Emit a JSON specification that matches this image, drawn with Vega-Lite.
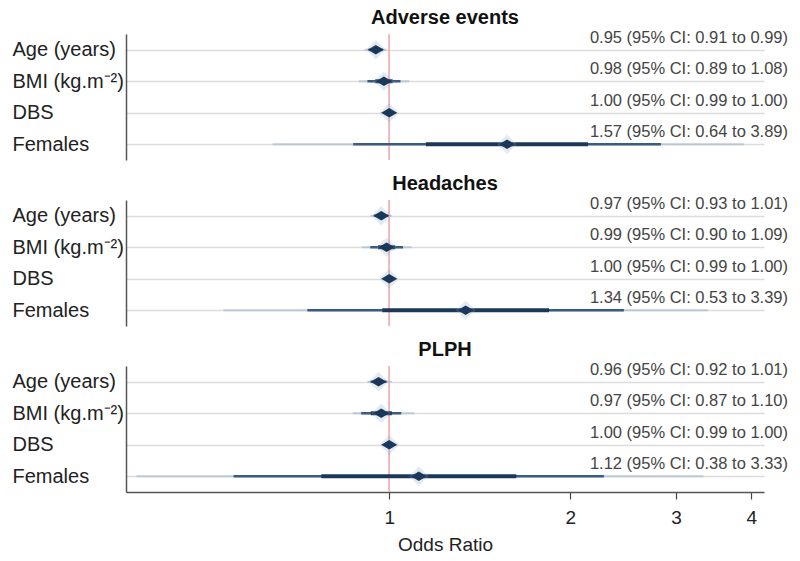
{
  "$schema": "https://vega.github.io/schema/vega-lite/v6.json",
  "padding": {"left": 12, "top": 7, "right": 5, "bottom": 3},
  "background": "white",
  "config": {
    "font": "Liberation Sans",
    "view": {"stroke": null},
    "concat": {"spacing": 12},
    "title": {"fontSize": 20, "fontWeight": "bold", "color": "#111", "anchor": "middle", "offset": 2}
  },
  "data": {"values": [
    {"outcome": "Adverse events", "var": "Age (years)", "est": 0.95, "lo95": 0.91, "hi95": 0.99, "lo80": 0.924, "hi80": 0.976, "lo50": 0.936, "hi50": 0.964, "label": "0.95 (95% CI: 0.91 to 0.99)"},
    {"outcome": "Adverse events", "var": "BMI (kg.m⁻²)", "est": 0.98, "lo95": 0.89, "hi95": 1.08, "lo80": 0.92, "hi80": 1.044, "lo50": 0.948, "hi50": 1.013, "label": "0.98 (95% CI: 0.89 to 1.08)"},
    {"outcome": "Adverse events", "var": "DBS", "est": 1.0, "lo95": 0.99, "hi95": 1.0, "lo80": 0.995, "hi80": 1.004, "lo50": 0.997, "hi50": 1.002, "label": "1.00 (95% CI: 0.99 to 1.00)"},
    {"outcome": "Adverse events", "var": "Females", "est": 1.57, "lo95": 0.64, "hi95": 3.89, "lo80": 0.871, "hi80": 2.83, "lo50": 1.151, "hi50": 2.141, "label": "1.57 (95% CI: 0.64 to 3.89)"},
    {"outcome": "Headaches", "var": "Age (years)", "est": 0.97, "lo95": 0.93, "hi95": 1.01, "lo80": 0.944, "hi80": 0.996, "lo50": 0.956, "hi50": 0.984, "label": "0.97 (95% CI: 0.93 to 1.01)"},
    {"outcome": "Headaches", "var": "BMI (kg.m⁻²)", "est": 0.99, "lo95": 0.9, "hi95": 1.09, "lo80": 0.93, "hi80": 1.054, "lo50": 0.958, "hi50": 1.023, "label": "0.99 (95% CI: 0.90 to 1.09)"},
    {"outcome": "Headaches", "var": "DBS", "est": 1.0, "lo95": 0.99, "hi95": 1.0, "lo80": 0.995, "hi80": 1.004, "lo50": 0.997, "hi50": 1.002, "label": "1.00 (95% CI: 0.99 to 1.00)"},
    {"outcome": "Headaches", "var": "Females", "est": 1.34, "lo95": 0.53, "hi95": 3.39, "lo80": 0.731, "hi80": 2.456, "lo50": 0.974, "hi50": 1.844, "label": "1.34 (95% CI: 0.53 to 3.39)"},
    {"outcome": "PLPH", "var": "Age (years)", "est": 0.96, "lo95": 0.92, "hi95": 1.01, "lo80": 0.931, "hi80": 0.99, "lo50": 0.945, "hi50": 0.976, "label": "0.96 (95% CI: 0.92 to 1.01)"},
    {"outcome": "PLPH", "var": "BMI (kg.m⁻²)", "est": 0.97, "lo95": 0.87, "hi95": 1.1, "lo80": 0.898, "hi80": 1.047, "lo50": 0.932, "hi50": 1.01, "label": "0.97 (95% CI: 0.87 to 1.10)"},
    {"outcome": "PLPH", "var": "DBS", "est": 1.0, "lo95": 0.99, "hi95": 1.0, "lo80": 0.995, "hi80": 1.004, "lo50": 0.997, "hi50": 1.002, "label": "1.00 (95% CI: 0.99 to 1.00)"},
    {"outcome": "PLPH", "var": "Females", "est": 1.12, "lo95": 0.38, "hi95": 3.33, "lo80": 0.551, "hi80": 2.275, "lo50": 0.771, "hi50": 1.627, "label": "1.12 (95% CI: 0.38 to 3.33)"}
  ]},
  "vconcat": [
    {
      "title": "Adverse events",
      "transform": [{"filter": "datum.outcome === 'Adverse events'"}],
      "width": 638, "height": 126,
      "encoding": {
        "y": {"field": "var", "type": "nominal", "sort": ["Age (years)", "BMI (kg.m⁻²)", "DBS", "Females"],
          "scale": {"type": "point", "padding": 0.5},
          "axis": {"title": null, "labelAlign": "left", "labelPadding": 114, "ticks": false, "tickSize": 0, "labelFontSize": 20, "labelColor": "#222", "domainColor": "#555", "domainWidth": 1.5, "grid": true, "gridColor": "#dcdcdc", "gridWidth": 1.5, "labelLimit": 200}}
      },
      "layer": [
        {"mark": {"type": "rule", "color": "#f4b3bb", "strokeWidth": 1.2}, "encoding": {"x": {"datum": 1, "type": "quantitative", "scale": {"type": "log", "domain": [0.365, 4.2], "nice": false}, "axis": null}, "y": null}},
        {"mark": {"type": "rule", "color": "#a9bccf", "strokeWidth": 2, "opacity": 0.7}, "encoding": {"x": {"field": "lo95", "type": "quantitative"}, "x2": {"field": "hi95"}}},
        {"mark": {"type": "rule", "color": "#3a5c80", "strokeWidth": 2.5}, "encoding": {"x": {"field": "lo80", "type": "quantitative"}, "x2": {"field": "hi80"}}},
        {"mark": {"type": "rule", "color": "#1c3858", "strokeWidth": 4}, "encoding": {"x": {"field": "lo50", "type": "quantitative"}, "x2": {"field": "hi50"}}},
        {"mark": {"type": "point", "shape": "M-1,0L0,-1L1,0L0,1Z", "filled": true, "color": "#8aaccb", "opacity": 0.25, "size": 380, "strokeWidth": 0}, "encoding": {"x": {"field": "est", "type": "quantitative"}}},
        {"mark": {"type": "point", "shape": "M-1,0L0,-0.6L1,0L0,0.6Z", "filled": true, "color": "#1c3858", "opacity": 1, "size": 256, "strokeWidth": 0}, "encoding": {"x": {"field": "est", "type": "quantitative"}}},
        {"mark": {"type": "text", "align": "right", "baseline": "alphabetic", "dx": 24, "dy": -7, "fontSize": 16.5, "color": "#444"}, "encoding": {"x": {"datum": 4.2, "type": "quantitative"}, "text": {"field": "label"}}}
      ]
    },
    {
      "title": "Headaches",
      "transform": [{"filter": "datum.outcome === 'Headaches'"}],
      "width": 638, "height": 126,
      "encoding": {
        "y": {"field": "var", "type": "nominal", "sort": ["Age (years)", "BMI (kg.m⁻²)", "DBS", "Females"],
          "scale": {"type": "point", "padding": 0.5},
          "axis": {"title": null, "labelAlign": "left", "labelPadding": 114, "ticks": false, "tickSize": 0, "labelFontSize": 20, "labelColor": "#222", "domainColor": "#555", "domainWidth": 1.5, "grid": true, "gridColor": "#dcdcdc", "gridWidth": 1.5, "labelLimit": 200}}
      },
      "layer": [
        {"mark": {"type": "rule", "color": "#f4b3bb", "strokeWidth": 1.2}, "encoding": {"x": {"datum": 1, "type": "quantitative", "scale": {"type": "log", "domain": [0.365, 4.2], "nice": false}, "axis": null}, "y": null}},
        {"mark": {"type": "rule", "color": "#a9bccf", "strokeWidth": 2, "opacity": 0.7}, "encoding": {"x": {"field": "lo95", "type": "quantitative"}, "x2": {"field": "hi95"}}},
        {"mark": {"type": "rule", "color": "#3a5c80", "strokeWidth": 2.5}, "encoding": {"x": {"field": "lo80", "type": "quantitative"}, "x2": {"field": "hi80"}}},
        {"mark": {"type": "rule", "color": "#1c3858", "strokeWidth": 4}, "encoding": {"x": {"field": "lo50", "type": "quantitative"}, "x2": {"field": "hi50"}}},
        {"mark": {"type": "point", "shape": "M-1,0L0,-1L1,0L0,1Z", "filled": true, "color": "#8aaccb", "opacity": 0.25, "size": 380, "strokeWidth": 0}, "encoding": {"x": {"field": "est", "type": "quantitative"}}},
        {"mark": {"type": "point", "shape": "M-1,0L0,-0.6L1,0L0,0.6Z", "filled": true, "color": "#1c3858", "opacity": 1, "size": 256, "strokeWidth": 0}, "encoding": {"x": {"field": "est", "type": "quantitative"}}},
        {"mark": {"type": "text", "align": "right", "baseline": "alphabetic", "dx": 24, "dy": -7, "fontSize": 16.5, "color": "#444"}, "encoding": {"x": {"datum": 4.2, "type": "quantitative"}, "text": {"field": "label"}}}
      ]
    },
    {
      "title": "PLPH",
      "transform": [{"filter": "datum.outcome === 'PLPH'"}],
      "width": 638, "height": 126,
      "encoding": {
        "y": {"field": "var", "type": "nominal", "sort": ["Age (years)", "BMI (kg.m⁻²)", "DBS", "Females"],
          "scale": {"type": "point", "padding": 0.5},
          "axis": {"title": null, "labelAlign": "left", "labelPadding": 114, "ticks": false, "tickSize": 0, "labelFontSize": 20, "labelColor": "#222", "domainColor": "#555", "domainWidth": 1.5, "grid": true, "gridColor": "#dcdcdc", "gridWidth": 1.5, "labelLimit": 200}}
      },
      "layer": [
        {"mark": {"type": "rule", "color": "#f4b3bb", "strokeWidth": 1.2}, "encoding": {"x": {"datum": 1, "type": "quantitative", "scale": {"type": "log", "domain": [0.365, 4.2], "nice": false},
          "axis": {"title": "Odds Ratio", "values": [1, 2, 3, 4], "format": "d", "grid": false, "tickSize": 7, "tickColor": "#444", "tickWidth": 1.2, "domainColor": "#555", "domainWidth": 1.5, "labelFontSize": 19, "labelColor": "#222", "labelPadding": 9, "titleFontSize": 19, "titleFontWeight": "normal", "titleColor": "#222", "titlePadding": 8}}, "y": null}},
        {"mark": {"type": "rule", "color": "#a9bccf", "strokeWidth": 2, "opacity": 0.7}, "encoding": {"x": {"field": "lo95", "type": "quantitative"}, "x2": {"field": "hi95"}}},
        {"mark": {"type": "rule", "color": "#3a5c80", "strokeWidth": 2.5}, "encoding": {"x": {"field": "lo80", "type": "quantitative"}, "x2": {"field": "hi80"}}},
        {"mark": {"type": "rule", "color": "#1c3858", "strokeWidth": 4}, "encoding": {"x": {"field": "lo50", "type": "quantitative"}, "x2": {"field": "hi50"}}},
        {"mark": {"type": "point", "shape": "M-1,0L0,-1L1,0L0,1Z", "filled": true, "color": "#8aaccb", "opacity": 0.25, "size": 380, "strokeWidth": 0}, "encoding": {"x": {"field": "est", "type": "quantitative"}}},
        {"mark": {"type": "point", "shape": "M-1,0L0,-0.6L1,0L0,0.6Z", "filled": true, "color": "#1c3858", "opacity": 1, "size": 256, "strokeWidth": 0}, "encoding": {"x": {"field": "est", "type": "quantitative"}}},
        {"mark": {"type": "text", "align": "right", "baseline": "alphabetic", "dx": 24, "dy": -7, "fontSize": 16.5, "color": "#444"}, "encoding": {"x": {"datum": 4.2, "type": "quantitative"}, "text": {"field": "label"}}}
      ]
    }
  ]
}
